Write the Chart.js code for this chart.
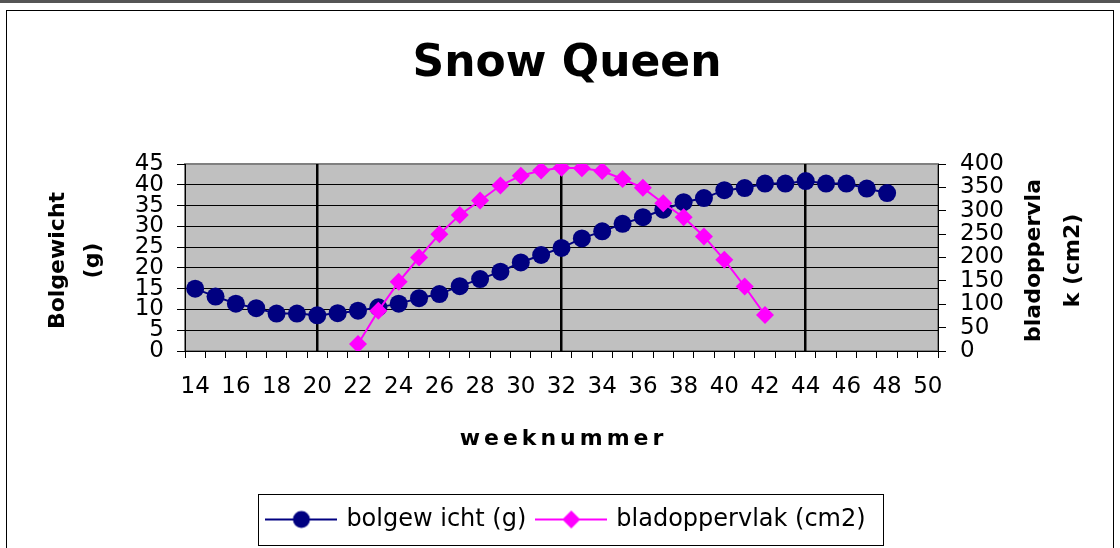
<!DOCTYPE html>
<html>
<head>
<meta charset="utf-8">
<title>Snow Queen</title>
<script src="https://cdn.jsdelivr.net/npm/chart.js@4.4.1/dist/chart.umd.min.js"></script>
<style>
  html, body { margin: 0; padding: 0; background: #fff; }
  #wrap { position: relative; width: 1120px; height: 548px; overflow: hidden; }
  #topband { position: absolute; left: 0; top: 0; width: 1120px; height: 3px; background: #555; }
  #frame { position: absolute; left: 6px; top: 10px; width: 1108px; height: 600px; border: 1px solid #000; box-sizing: border-box; pointer-events: none; }
  #chart { position: absolute; left: 0; top: 0; }
</style>
</head>
<body>
<div id="wrap">
  <div id="topband"></div>
  <canvas id="chart" width="1120" height="548"></canvas>
  <div id="frame"></div>
</div>
<script>
// weeknummer 14 t/m 50
const weeks = [14, 15, 16, 17, 18, 19, 20, 21, 22, 23, 24, 25, 26, 27, 28, 29, 30, 31, 32,
  33, 34, 35, 36, 37, 38, 39, 40, 41, 42, 43, 44, 45, 46, 47, 48, 49, 50];

// bolgewicht (g), week 14 - 48
const bolgewicht = [15, 13.1, 11.4, 10.3, 9.0, 9.0, 8.6, 9.1, 9.7, 10.5,
  11.4, 12.7, 13.7, 15.6, 17.3, 19.1, 21.3, 23.1, 24.8, 27.1,
  28.8, 30.6, 32.2, 34.0, 35.8, 36.8, 38.7, 39.2, 40.3, 40.3,
  40.9, 40.3, 40.3, 39.1, 38.0, null, null];

// bladoppervlak (cm2), week 22 - 42
const bladoppervlak = [null, null, null, null, null, null, null, null,
  15, 86, 148, 200, 250, 291, 322, 354, 375, 386,
  392, 391, 385, 368, 349, 316, 286, 245, 195, 138, 77,
  null, null, null, null, null, null, null, null];

const markerWeeks = [20, 32, 44];
const leftTicks = { min: 0, max: 45, step: 5 };
const rightTicks = { min: 0, max: 400, step: 50 };

const leftTitle = ["Bolgewicht", "(g)"];
const rightTitle = ["bladoppervla", "k (cm2)"];
const xTitle = "weeknummer";

const NAVY = "#000080";
const PINK = "#ff00ff";
const FONT = "DejaVu Sans";

function sampleImg(color, shape) {
  const c = document.createElement("canvas");
  c.width = 72;
  c.height = 24;
  const g = c.getContext("2d");
  g.strokeStyle = color;
  g.lineWidth = 2;
  g.beginPath();
  g.moveTo(0, 12);
  g.lineTo(72, 12);
  g.stroke();
  g.fillStyle = color;
  g.beginPath();
  if (shape === "circle") {
    g.arc(36, 12, 8.5, 0, Math.PI * 2);
  } else {
    g.moveTo(36, 3);
    g.lineTo(45, 12);
    g.lineTo(36, 21);
    g.lineTo(27, 12);
    g.closePath();
  }
  g.fill();
  return c;
}
const legendImgs = [sampleImg(NAVY, "circle"), sampleImg(PINK, "diamond")];

// grijze plotachtergrond
const plotBg = {
  id: "plotBg",
  beforeDraw(chart) {
    const { ctx, chartArea: a } = chart;
    ctx.save();
    ctx.fillStyle = "#c0c0c0";
    ctx.fillRect(a.left, a.top, a.width, a.height);
    ctx.strokeStyle = "#808080";
    ctx.lineWidth = 2;
    ctx.strokeRect(a.left, a.top, a.width, a.height);
    ctx.restore();
  }
};

// astitels (rechts leest van onder naar boven, zoals links)
const axisTitles = {
  id: "axisTitles",
  afterDraw(chart) {
    const { ctx, chartArea: a } = chart;
    const midY = (a.top + a.bottom) / 2 + 3;
    ctx.save();
    ctx.fillStyle = "#000";
    ctx.font = "bold 22px '" + FONT + "'";
    ctx.textAlign = "center";
    ctx.textBaseline = "middle";
    const vert = (lines, x0, gap) => {
      lines.forEach((t, i) => {
        ctx.save();
        ctx.translate(x0 + i * gap, midY);
        ctx.rotate(-Math.PI / 2);
        ctx.fillText(t, 0, 0);
        ctx.restore();
      });
    };
    vert(leftTitle, a.left - 127, 35);
    vert(rightTitle, a.right + 96, 39);
    ctx.letterSpacing = "4px";
    ctx.fillText(xTitle, (a.left + a.right) / 2 + 2, a.bottom + 88);
    ctx.restore();
  }
};

// kader om de legenda
const legendBox = {
  id: "legendBox",
  afterDraw(chart) {
    const boxes = chart.legend.legendHitBoxes;
    if (!boxes || !boxes.length) return;
    const l = Math.min(...boxes.map(b => b.left)) - 10;
    const r = Math.max(...boxes.map(b => b.left + b.width)) + 18;
    const cy = boxes[0].top + boxes[0].height / 2;
    const ctx = chart.ctx;
    ctx.save();
    ctx.strokeStyle = "#000";
    ctx.lineWidth = 1;
    ctx.strokeRect(Math.round(l) + 0.5, Math.round(cy - 25.5) + 0.5, Math.round(r - l), 51);
    ctx.restore();
  }
};

new Chart(document.getElementById("chart"), {
  type: "line",
  data: {
    labels: weeks,
    datasets: [
      {
        label: "bolgew icht (g)",
        data: bolgewicht,
        yAxisID: "y",
        borderColor: NAVY,
        backgroundColor: NAVY,
        borderWidth: 2,
        pointRadius: 9,
        pointBorderWidth: 0,
        pointBackgroundColor: NAVY,
        order: 1
      },
      {
        label: "bladoppervlak (cm2)",
        data: bladoppervlak,
        yAxisID: "y1",
        borderColor: PINK,
        backgroundColor: PINK,
        borderWidth: 2,
        pointStyle: "rectRot",
        pointRadius: 9,
        pointBorderWidth: 0,
        pointBackgroundColor: PINK,
        order: 0
      }
    ]
  },
  options: {
    responsive: false,
    animation: false,
    layout: { padding: { top: 12, left: 14, right: 0, bottom: 6.5 } },
    plugins: {
      title: {
        display: true,
        text: "Snow Queen",
        color: "#000",
        font: { family: FONT, size: 44, weight: "bold" },
        padding: { top: 26, bottom: 73.2 }
      },
      legend: {
        position: "bottom",
        labels: {
          usePointStyle: true,
          pointStyleWidth: 66,
          padding: 12,
          color: "#000",
          font: { family: FONT, size: 24 },
          generateLabels: chart => chart.data.datasets.map((ds, i) => ({
            text: ds.label,
            pointStyle: legendImgs[i],
            fillStyle: ds.borderColor,
            strokeStyle: ds.borderColor,
            lineWidth: 0,
            hidden: false,
            datasetIndex: i
          }))
        }
      },
      tooltip: { enabled: false }
    },
    scales: {
      x: {
        type: "category",
        position: "bottom",
        offset: true,
        grid: { offset: true, drawOnChartArea: false, color: "#000", tickColor: "#000", tickLength: 7 },
        border: { color: "#000", width: 1 },
        ticks: {
          autoSkip: false,
          maxRotation: 0,
          padding: 15,
          color: "#000",
          font: { family: FONT, size: 23 },
          callback: (v, i) => (weeks[i] % 2 === 0 ? String(weeks[i]) : "")
        },
        afterFit: s => { s.height = 144.5; }
      },
      x2: {
        type: "linear",
        position: "top",
        min: weeks[0] - 0.5,
        max: weeks[weeks.length - 1] + 0.5,
        grid: { color: "#000", lineWidth: 2.5, drawTicks: false },
        border: { display: false },
        ticks: { display: false },
        afterBuildTicks: s => { s.ticks = markerWeeks.map(w => ({ value: w })); },
        afterFit: s => { s.height = 0; }
      },
      y: {
        position: "left",
        min: leftTicks.min,
        max: leftTicks.max,
        grid: {
          color: c => (c.tick.value === leftTicks.max || c.tick.value === leftTicks.min ? "rgba(0,0,0,0)" : "#000"),
          tickColor: "#000",
          tickLength: 8
        },
        border: { color: "#000", width: 1 },
        ticks: {
          stepSize: leftTicks.step,
          autoSkip: false,
          padding: 13,
          color: "#000",
          font: { family: FONT, size: 23 }
        },
        afterFit: s => { s.width = 171; }
      },
      y1: {
        position: "right",
        min: rightTicks.min,
        max: rightTicks.max,
        grid: { drawOnChartArea: false, color: "#000", tickLength: 8 },
        border: { color: "#000", width: 1 },
        ticks: {
          stepSize: rightTicks.step,
          autoSkip: false,
          padding: 14,
          color: "#000",
          font: { family: FONT, size: 23 }
        },
        afterFit: s => { s.width = 182; }
      }
    }
  },
  plugins: [plotBg, axisTitles, legendBox]
});
</script>
</body>
</html>
